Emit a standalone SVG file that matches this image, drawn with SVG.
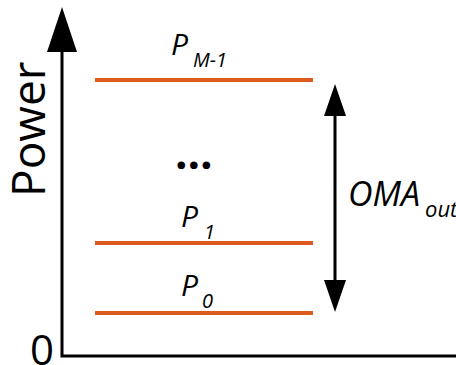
<svg xmlns="http://www.w3.org/2000/svg" width="456" height="365" viewBox="0 0 456 365">
<style>
.t{font-family:"Open Sans","Liberation Sans",sans-serif;fill:#000}
.i{font-style:italic}
.lvl{stroke:#DD5A1F;stroke-width:4;fill:none}
.ax{stroke:#000;stroke-width:3;fill:none}
</style>
<rect width="456" height="365" fill="#fff"/>
<g id="axes">
<path class="ax" d="M62,50 V356 H456"/>
<polygon points="62,7 47,52 77,52" fill="#000"/>
<text class="t" x="0" y="0" font-size="46" transform="translate(45,197) rotate(-90)">Power</text>
<text class="t" x="30" y="365" font-size="42">0</text>
</g>
<g id="levels">
<g id="level-m1"><line class="lvl" x1="95" y1="80" x2="313" y2="80"/>
<text class="t i" x="171" y="55" font-size="30">P</text><text class="t i" x="193" y="67" font-size="20">M-1</text></g>
<g id="dots"><text class="t" x="175" y="169" font-size="44" font-weight="bold">…</text></g>
<g id="level-1"><line class="lvl" x1="95" y1="243" x2="313" y2="243"/>
<text class="t i" x="181" y="227" font-size="30">P</text><text class="t i" x="204" y="239" font-size="20">1</text></g>
<g id="level-0"><line class="lvl" x1="95" y1="313" x2="313" y2="313"/>
<text class="t i" x="181" y="296" font-size="30">P</text><text class="t i" x="202" y="308" font-size="20">0</text></g>
</g>
<g id="connectors">
<line x1="335" y1="112" x2="335" y2="284" stroke="#000" stroke-width="3"/>
<polygon points="335,84 324,116 346,116" fill="#000"/>
<polygon points="335,312 324,280 346,280" fill="#000"/>
</g>
<g id="oma">
<text class="t i" x="348" y="206" font-size="34">OMA</text><text class="t i" x="425" y="217" font-size="22">out</text>
</g>
</svg>
